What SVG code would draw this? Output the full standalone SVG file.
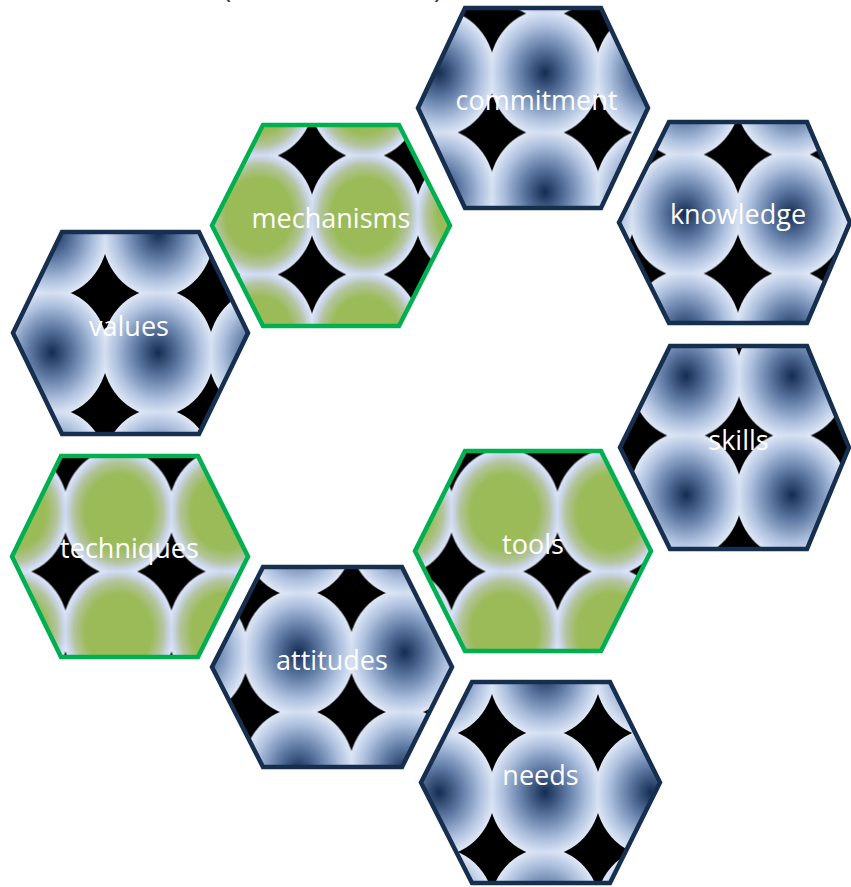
<svg xmlns="http://www.w3.org/2000/svg" xmlns:xlink="http://www.w3.org/1999/xlink" width="851" height="887" viewBox="0 0 851 887">
<style>
.hb{stroke:#172f4f;stroke-width:4.5;stroke-linejoin:miter}
.hg{stroke:#00b050;stroke-width:4.5;stroke-linejoin:miter}
.lbl{font-family:"Open Sans","Liberation Sans",sans-serif;font-size:27px;fill:#ffffff;text-anchor:middle}
.par{font-family:"Open Sans","Liberation Sans",sans-serif;font-size:28px;fill:#333333}
</style>
<defs>
<radialGradient id="gB" cx="0.5" cy="0.5" r="0.5">
<stop offset="0" stop-color="#132c52"/>
<stop offset="0.4" stop-color="#5f7aa4"/>
<stop offset="0.75" stop-color="#adc0de"/>
<stop offset="1" stop-color="#e0e8f6"/>
</radialGradient>
<radialGradient id="gG" cx="0.5" cy="0.5" r="0.5">
<stop offset="0" stop-color="#9bbb59"/>
<stop offset="0.6" stop-color="#9bbb59"/>
<stop offset="0.8" stop-color="#b4c4a0"/>
<stop offset="0.93" stop-color="#cdd8ef"/>
<stop offset="1" stop-color="#e0e8f6"/>
</radialGradient>
<g id="tB"><rect width="106" height="119" fill="#000"/><ellipse cx="53" cy="59.5" rx="56" ry="63" fill="url(#gB)"/></g>
<g id="tG"><rect width="106" height="119" fill="#000"/><ellipse cx="53" cy="59.5" rx="56" ry="63" fill="url(#gG)"/></g>
<pattern id="p1" patternUnits="userSpaceOnUse" x="492" y="13.5" width="106" height="119"><use href="#tB"/></pattern>
<pattern id="p2" patternUnits="userSpaceOnUse" x="312" y="155.5" width="106" height="119"><use href="#tG"/></pattern>
<pattern id="p3" patternUnits="userSpaceOnUse" x="105" y="293" width="106" height="119"><use href="#tB"/></pattern>
<pattern id="p4" patternUnits="userSpaceOnUse" x="451.5" y="452.5" width="106" height="119"><use href="#tG"/></pattern>
<pattern id="p5" patternUnits="userSpaceOnUse" x="633" y="316.5" width="106" height="119"><use href="#tB"/></pattern>
<pattern id="p6" patternUnits="userSpaceOnUse" x="632" y="154.5" width="106" height="119"><use href="#tB"/></pattern>
<pattern id="p7" patternUnits="userSpaceOnUse" x="65.5" y="452.5" width="106" height="119"><use href="#tG"/></pattern>
<pattern id="p8" patternUnits="userSpaceOnUse" x="245.5" y="593" width="106" height="119"><use href="#tB"/></pattern>
<pattern id="p9" patternUnits="userSpaceOnUse" x="492" y="733" width="106" height="119"><use href="#tB"/></pattern>
</defs>
<rect width="851" height="887" fill="#ffffff"/>
<text class="par" x="223" y="-2">(</text>
<text class="par" x="434" y="-2">)</text>
<g id="commitment">
<polygon class="hb" fill="url(#p1)" points="418,108 465,8 601,8 648,108 601,208 465,208"/>
<text class="lbl" x="536.5" y="110">commitment</text>
</g>
<g id="mechanisms">
<polygon class="hg" fill="url(#p2)" points="212,225.5 263,125 399,125 450,225.5 399,326 263,326"/>
<text class="lbl" x="331" y="228">mechanisms</text>
</g>
<g id="values">
<polygon class="hb" fill="url(#p3)" points="13,333 62,232 199,232 248,333 199,434 62,434"/>
<text class="lbl" x="129" y="336">values</text>
</g>
<g id="tools">
<polygon class="hg" fill="url(#p4)" points="415,551 465,451 601,451 651,551 601,651 465,651"/>
<text class="lbl" x="533" y="554">tools</text>
</g>
<g id="skills">
<polygon class="hb" fill="url(#p5)" points="620,447.5 670,346 807,346 849,447.5 807,549 670,549"/>
<text class="lbl" x="738.5" y="450">skills</text>
</g>
<g id="knowledge">
<polygon class="hb" fill="url(#p6)" points="619,222.5 669,122 807,122 850,222.5 807,323 669,323"/>
<text class="lbl" x="738" y="224">knowledge</text>
</g>
<g id="techniques">
<polygon class="hg" fill="url(#p7)" points="12,556.5 61,456 198,456 248,556.5 198,657 61,657"/>
<text class="lbl" x="129.5" y="558">techniques</text>
</g>
<g id="attitudes">
<polygon class="hb" fill="url(#p8)" points="212,667 263,567 402,567 452,667 402,767 263,767"/>
<text class="lbl" x="332" y="670">attitudes</text>
</g>
<g id="needs">
<polygon class="hb" fill="url(#p9)" points="421,782.5 472,682 610,682 660,782.5 610,883 472,883"/>
<text class="lbl" x="540.5" y="785">needs</text>
</g>
</svg>
